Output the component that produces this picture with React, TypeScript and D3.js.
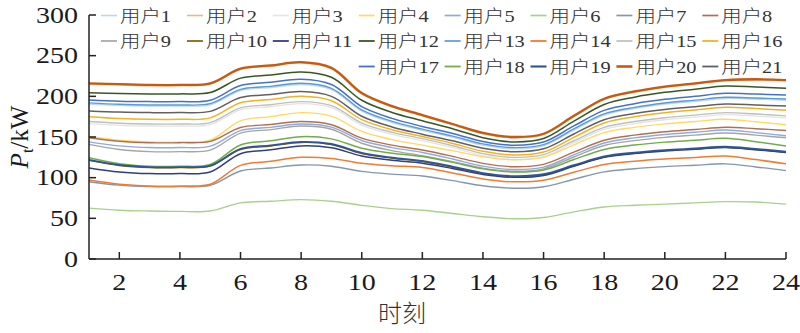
import React from "react";
import * as d3 from "d3";

const hours = [1,2,3,4,5,6,7,8,9,10,11,12,13,14,15,16,17,18,19,20,21,22,23,24];
const xTicks = [2,4,6,8,10,12,14,16,18,20,22,24];
const yTicks = [0,50,100,150,200,250,300];

const user1 = [190.5,188.8,188,188,189.6,207,210.8,214.5,208.3,181.8,167.7,158.1,149.5,140,135.5,139.2,158.4,176.9,184.9,190.3,193.8,197.3,196.4,195.2];
const user2 = [215,214,213,213,215,233,237,241,234,203,187,176,165,154,149,153,175,196,205,211,215,219,220,219];
const user3 = [166.5,164.4,163.5,163.5,165.2,183.3,187.2,191,186,164.6,153.2,145.5,136.8,127.1,122.5,125.8,142.9,159.4,166.5,171.2,174.4,177.5,175.7,173.5];
const user4 = [151,146.1,144,144,146.2,169.9,175,180,175.6,156.8,146.8,140,133.2,125.6,122,125,140.4,155.4,161.8,166.1,169,171.8,168.7,165];
const user5 = [144,139.1,137,137,138.7,157.9,161.9,166,162.1,145.7,137,131,123,114.2,110,112.9,128,142.6,148.9,153.1,155.8,158.6,155.4,151.6];
const user6 = [62.5,60,59,58.5,59,69,71,73,71,66,62,60,56,52,49.5,51,58,64,66,67.5,69,70.5,70,67.5];
const user7 = [95,90.8,89,89,90.6,108.2,111.9,115.6,114.1,107.7,104.3,102,96.3,90,87,88.8,98.1,107.1,111,113.6,115.3,117,113.2,108.6];
const user8 = [149,144.8,143,143,144.6,161.7,165.4,169,165.1,148.7,140,134,126.2,117.6,113.5,116.4,131.4,146,152.3,156.5,159.2,162,160.2,158];
const user9 = [141,134.7,132,132,133.9,154.7,159.1,163.5,159.5,142.3,133.2,127,119.8,111.8,108,110.8,125.4,139.5,145.6,149.6,152.3,155,152.3,149];
const user10 = [121.3,115,112.3,112.3,114.2,134.6,139,143.3,140.7,129.7,123.9,119.9,112.8,105,101.3,103.5,114.6,125.4,130.1,133.2,135.2,137.3,134.6,131.3];
const user11 = [112,107.1,105,105,107,129.5,134.2,139,136.7,126.7,121.4,117.8,111.2,104,100.5,102.7,114,125,129.7,132.8,134.9,137,134.3,131];
const user12 = [204.5,203.5,203,203,204.6,222.4,226.2,230,223.4,195.2,180.2,170,160.1,149.2,144,148.1,169.4,190,199,204.9,208.8,212.7,211.5,210];
const user13 = [192,190.2,189.4,189.4,191,208.6,212.3,216,209.8,183.3,169.2,159.6,151,141.5,137,140.7,159.9,178.4,186.4,191.8,195.3,198.8,197.9,196.7];
const user14 = [97,92,89.8,89.8,91.9,115.1,120.1,125,123.6,117.7,114.6,112.5,105.8,98.5,95,96.9,106.7,116.2,120.3,123,124.8,126.6,122.3,117];
const user15 = [169,166.9,166,166,167.7,185.8,189.7,193.5,188.5,167.1,155.7,148,139.3,129.6,125,128.3,145.4,161.9,169,173.7,176.9,180,178.2,176];
const user16 = [175,172.8,171.8,171.8,173.5,192.1,196.1,200,194.6,171.3,159,150.6,142,132.5,128,131.5,149.6,167.2,174.8,179.8,183.2,186.5,184.9,183];
const user17 = [195.5,194.1,193.5,193.5,195.2,213.3,217.2,221,214.6,187.4,172.9,163,154.3,144.6,140,143.8,163.6,182.7,191,196.4,200.1,203.7,202.8,201.6];
const user18 = [124.5,117.2,114,114,116.2,140.2,145.3,150.4,147.7,136.2,130.1,126,118.8,110.8,107,109.5,122.3,134.7,140.1,143.7,146,148.4,144.2,139];
const user19 = [122,115.7,113,113,114.9,135.3,139.7,144,141.4,130.4,124.6,120.6,113.5,105.7,102,104.2,115.3,126.1,130.8,133.9,135.9,138,135.3,132];
const user20 = [216,215,214,214,216,234,238,242,235,204,188,177,166,155,150,154,176,197,206,212,216,220,221,220];
const user21 = [182,180.6,180,180,181.5,198.6,202.2,205.8,200,175.5,162.4,153.5,145.3,136.3,132,135.5,153.7,171.3,178.9,183.9,187.3,190.6,189.4,188];

const seriesNames = ["用户1","用户2","用户3","用户4","用户5","用户6","用户7","用户8","用户9","用户10","用户11","用户12","用户13","用户14","用户15","用户16","用户17","用户18","用户19","用户20","用户21"];
const seriesValues = [user1,user2,user3,user4,user5,user6,user7,user8,user9,user10,user11,user12,user13,user14,user15,user16,user17,user18,user19,user20,user21];
const seriesColors = ["#BDD7EE","#F4B183","#E4E4E4","#FFD966","#8FAADC","#A9D18E","#8497B0","#B07050","#A5A5A5","#7F6000","#2F3F80","#385723","#5B9BD5","#ED7D31","#BFBFBF","#F0B323","#4472C4","#70AD47","#2F5597","#C55A11","#606060"];
const seriesWidths = [1.3,1.3,1.3,1.4,1.4,1.4,1.4,1.4,1.4,1.4,1.5,1.5,1.4,1.5,1.4,1.5,1.5,1.5,1.8,2.3,1.5];

const serif = "'Liberation Serif', 'Times New Roman', 'Noto Sans CJK SC', serif";

export default function App() {
  const W = 800, H = 333;
  const x = d3.scaleLinear().domain([1, 24]).range([89, 786]);
  const y = d3.scaleLinear().domain([0, 300]).range([259, 15]);
  const line = d3.line<number>()
    .x((_, i) => x(hours[i]))
    .y((d) => y(d))
    .curve(d3.curveCatmullRom.alpha(0.5));

  const legendX0 = 101, legendDX = 85.9;
  const legendRows = [15.5, 41, 66.5];
  const legendPos = seriesNames.map((_, i) => {
    const row = Math.floor(i / 8);
    const col = row < 2 ? i % 8 : (i - 16) + 3;
    return { lx: legendX0 + col * legendDX, ly: legendRows[row] };
  });

  return (
    <svg width={W} height={H} style={{ position: "absolute", left: 0, top: 0, background: "#fff" }} fontFamily={serif}>
      <rect width={W} height={H} fill="#fff" />
      {seriesValues.map((vals, i) => (
        <path key={i} d={line(vals) || ""} fill="none" stroke={seriesColors[i]} strokeWidth={seriesWidths[i]} strokeLinejoin="round" />
      ))}
      {/* axes */}
      <line x1={x(1)} x2={x(1)} y1={y(300)} y2={y(0)} stroke="#222" strokeWidth={1.5} />
      <line x1={x(1)} x2={x(24)} y1={y(0)} y2={y(0)} stroke="#222" strokeWidth={1.5} />
      {yTicks.map((t) => (
        <g key={"y" + t}>
          <line x1={x(1)} x2={x(1) + 7} y1={y(t)} y2={y(t)} stroke="#222" strokeWidth={1.5} />
          <g transform={`translate(78,${y(t)}) scale(1.22,1)`}>
            <text textAnchor="end" dy="0.34em" fontSize={23} fill="#1a1a1a">{t}</text>
          </g>
        </g>
      ))}
      {xTicks.map((t) => (
        <g key={"x" + t}>
          <line x1={x(t)} x2={x(t)} y1={y(0)} y2={y(0) - 7} stroke="#222" strokeWidth={1.5} />
          <g transform={`translate(${x(t)},290) scale(1.22,1)`}>
            <text textAnchor="middle" fontSize={23} fill="#1a1a1a">{t}</text>
          </g>
        </g>
      ))}
      {/* axis labels */}
      <text x={402} y={322} textAnchor="middle" fontSize={24} fontWeight={300} fill="#333" fontFamily="'Noto Sans CJK SC', sans-serif">时刻</text>
      <g transform="translate(28,137) rotate(-90)">
        <text textAnchor="middle" fontSize={25} fill="#1a1a1a">
          <tspan fontStyle="italic">P</tspan>
          <tspan fontSize={16} dy={5}>t</tspan>
          <tspan dy={-5}>/kW</tspan>
        </text>
      </g>
      {/* legend */}
      {seriesNames.map((name, i) => {
        const { lx, ly } = legendPos[i];
        return (
          <g key={"lg" + i}>
            <line x1={lx} x2={lx + 16} y1={ly} y2={ly} stroke={seriesColors[i]} strokeWidth={seriesWidths[i] + 0.3} />
            <g transform={`translate(${lx + 19},${ly}) scale(1.2,1)`}>
              <text dy="0.36em" fontSize={17} fontWeight={300} fill="#333">{name}</text>
            </g>
          </g>
        );
      })}
    </svg>
  );
}
